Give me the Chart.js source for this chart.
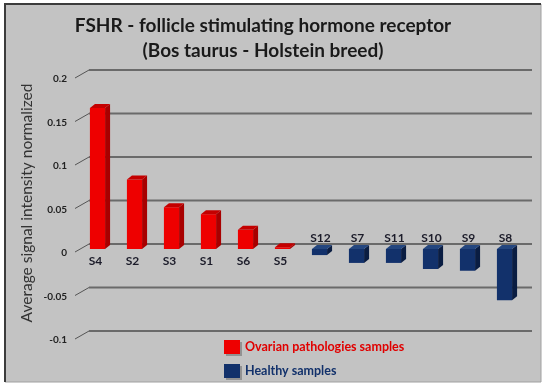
<!DOCTYPE html>
<html>
<head>
<meta charset="utf-8">
<script src="https://cdn.jsdelivr.net/npm/chart.js@4.4.0/dist/chart.umd.min.js"></script>
<style>
  html, body { margin: 0; padding: 0; background: #fff; }
  #wrap { width: 550px; height: 389px; }
</style>
</head>
<body>
<div id="wrap"><canvas id="myChart" width="550" height="389"></canvas></div>
<script>
const samples = ['S4', 'S2', 'S3', 'S1', 'S6', 'S5', 'S12', 'S7', 'S11', 'S10', 'S9', 'S8'];
const pathologyValues = [0.162, 0.080, 0.048, 0.040, 0.022, 0.002, null, null, null, null, null, null];
const healthyValues = [null, null, null, null, null, null, -0.007, -0.016, -0.016, -0.023, -0.025, -0.059];
const tickValues = [0.2, 0.15, 0.1, 0.05, 0, -0.05, -0.1];
const tickLabels = ['0.2', '0.15', '0.1', '0.05', '0', '-0.05', '-0.1'];

const titleLines = ['FSHR - follicle stimulating hormone receptor', '(Bos taurus - Holstein breed)'];
const yTitle = 'Average signal intensity normalized';

const faces = [
  { front: '#ee0000', side: '#a80000', top: '#c40000' },
  { front: '#12316b', side: '#0a1d42', top: '#24467f' }
];

// frame, walls, gridlines and tick labels
const backdrop = {
  id: 'backdrop',
  beforeDraw(chart) {
    const ctx = chart.ctx;
    ctx.save();
    ctx.fillStyle = '#fff';
    ctx.fillRect(0, 0, chart.width, chart.height);
    ctx.fillStyle = '#c3c3c3';
    ctx.fillRect(5, 4, 536, 378);
    ctx.strokeStyle = '#a0a0a0';
    ctx.lineWidth = 1;
    ctx.beginPath();
    ctx.moveTo(541, 4); ctx.lineTo(541, 382); ctx.lineTo(5, 382);
    ctx.stroke();
    ctx.strokeStyle = '#3c3c3c';
    ctx.lineWidth = 2;
    ctx.beginPath();
    ctx.moveTo(5, 382); ctx.lineTo(5, 4); ctx.lineTo(541, 4);
    ctx.stroke();

    // title
    ctx.fillStyle = '#1a1a1a';
    ctx.font = 'bold 19px Lato';
    ctx.textAlign = 'center';
    ctx.textBaseline = 'middle';
    ctx.fillText(titleLines[0], 263, 26);
    ctx.fillText(titleLines[1], 263, 51);

    // y axis title
    ctx.save();
    ctx.translate(27, 203);
    ctx.rotate(-Math.PI / 2);
    ctx.fillStyle = '#333';
    ctx.font = '15.5px Lato';
    ctx.fillText(yTitle, 0, 0);
    ctx.restore();

    const y = chart.scales.y;
    const left = chart.chartArea.left;
    ctx.font = 'bold 10px Lato';
    ctx.textAlign = 'right';
    tickValues.forEach((v, i) => {
      const py = y.getPixelForValue(v);
      ctx.strokeStyle = '#6a6a6a';
      ctx.lineWidth = 1.8;
      ctx.beginPath();
      ctx.moveTo(left + 10, py - 5);
      ctx.lineTo(532, py - 5);
      ctx.stroke();
      ctx.strokeStyle = '#555';
      ctx.lineWidth = 1;
      ctx.beginPath();
      ctx.moveTo(left - 4, py + 3);
      ctx.lineTo(left + 10, py - 5);
      ctx.stroke();
      ctx.fillStyle = '#222';
      ctx.fillText(tickLabels[i], 67, py + 4);
    });
    ctx.restore();
  }
};

// 3D faces, sample labels and legend
const extrude = {
  id: 'extrude',
  afterDatasetsDraw(chart) {
    const ctx = chart.ctx;
    const dx = 5, dy = 4;
    ctx.save();
    chart.data.datasets.forEach((ds, di) => {
      const meta = chart.getDatasetMeta(di);
      meta.data.forEach((bar, i) => {
        if (ds.data[i] === null) return;
        const p = bar.getProps(['x', 'y', 'base', 'width'], true);
        const l = p.x - p.width / 2, r = p.x + p.width / 2;
        const top = Math.min(p.y, p.base), bot = Math.max(p.y, p.base);
        ctx.fillStyle = faces[di].side;
        ctx.beginPath();
        ctx.moveTo(r, top); ctx.lineTo(r + dx, top - dy);
        ctx.lineTo(r + dx, bot - dy); ctx.lineTo(r, bot);
        ctx.closePath(); ctx.fill();
        ctx.fillStyle = faces[di].top;
        ctx.beginPath();
        ctx.moveTo(l, top); ctx.lineTo(l + dx, top - dy);
        ctx.lineTo(r + dx, top - dy); ctx.lineTo(r, top);
        ctx.closePath(); ctx.fill();

        ctx.fillStyle = '#1c1c2a';
        ctx.font = 'bold 12px Lato';
        ctx.textAlign = 'center';
        ctx.textBaseline = 'middle';
        if (ds.data[i] >= 0) {
          ctx.fillText(samples[i], p.x - 2, bot + 12);
        } else {
          ctx.fillText(samples[i], p.x + 1, top - 11);
        }
      });
    });

    // legend
    const items = [
      { text: chart.data.datasets[0].label, color: '#ee0000', textColor: '#e00000', y: 347 },
      { text: chart.data.datasets[1].label, color: '#12316b', textColor: '#12316b', y: 371 }
    ];
    items.forEach(it => {
      ctx.fillStyle = 'rgba(0,0,0,0.25)';
      ctx.fillRect(226, it.y - 5, 16, 14);
      ctx.fillStyle = it.color;
      ctx.fillRect(224, it.y - 7, 16, 14);
      ctx.fillStyle = it.textColor;
      ctx.font = 'bold 12.5px Lato';
      ctx.textAlign = 'left';
      ctx.textBaseline = 'middle';
      ctx.fillText(it.text, 245, it.y);
    });
    ctx.restore();
  }
};

new Chart(document.getElementById('myChart'), {
  type: 'bar',
  data: {
    labels: samples,
    datasets: [{
      label: 'Ovarian pathologies samples',
      data: pathologyValues,
      backgroundColor: faces[0].front
    }, {
      label: 'Healthy samples',
      data: healthyValues,
      backgroundColor: faces[1].front
    }]
  },
  options: {
    responsive: false,
    animation: false,
    layout: { padding: { left: 79, right: 27, top: 75, bottom: 53 } },
    plugins: { legend: { display: false }, title: { display: false }, tooltip: { enabled: false } },
    datasets: { bar: { categoryPercentage: 1, barPercentage: 0.41 } },
    scales: {
      x: { display: false, stacked: true },
      y: { display: false, stacked: true, min: -0.1, max: 0.2 }
    }
  },
  plugins: [backdrop, extrude]
});
</script>
</body>
</html>
